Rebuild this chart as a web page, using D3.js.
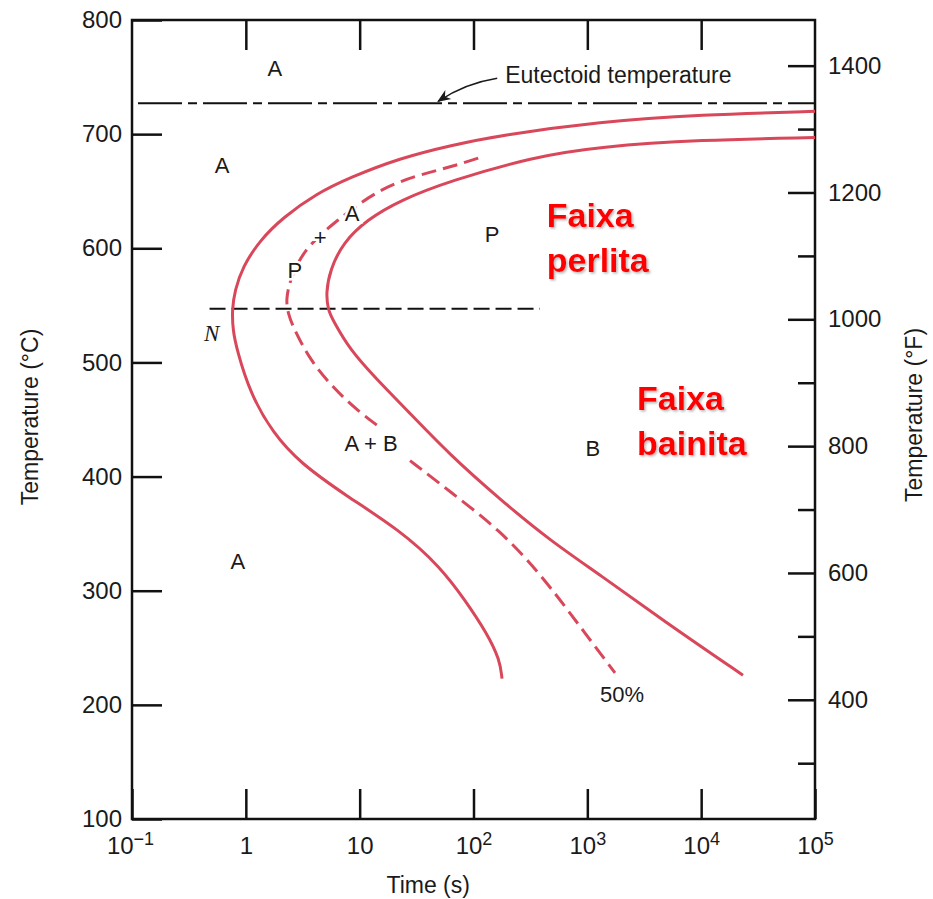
<!DOCTYPE html>
<html>
<head>
<meta charset="utf-8">
<script src="https://cdn.jsdelivr.net/npm/d3@7"></script>
<style>
  body { margin: 0; background: #fff; }
  svg text { font-family: "Liberation Sans", Arial, sans-serif; fill: #1a1a1a; }
</style>
</head>
<body>
<svg id="chart" width="933" height="899"></svg>
<script>
// isothermal transformation diagram, eutectoid steel
const timeTicks = [0.1, 1, 10, 100, 1000, 10000, 100000];
const timeTickLabels = [["10", "\u22121"], ["1", ""], ["10", ""], ["10", "2"], ["10", "3"], ["10", "4"], ["10", "5"]];
const celsiusTicks = [800, 700, 600, 500, 400, 300, 200, 100];
const fahrenheitMajor = [1400, 1200, 1000, 800, 600, 400];
const fahrenheitMinor = [1300, 1100, 900, 700, 500, 300];

// [time (s), temperature (C)]
const startCurve = [
    [100000, 720], [9800, 717], [1290, 711], [171, 699], [62, 690], [22.6, 679],
    [8.2, 662], [4.2, 648], [2.12, 627], [1.33, 607], [0.94, 584], [0.80, 563],
    [0.756, 546], [0.77, 528], [0.835, 511], [1.09, 473], [1.73, 438], [2.99, 412],
    [7.4, 384], [22.6, 353], [51, 321], [84, 292], [131, 263], [171, 239], [178, 223]
];
const halfCurveUpper = [
    [110, 679], [62, 671], [32, 664], [14.2, 651], [5.83, 622], [3.18, 598],
    [2.44, 572], [2.25, 555], [2.35, 543], [2.6, 531], [3.66, 502], [5.83, 478],
    [9.5, 458], [15.1, 443]
];
const halfCurveLower = [
    [27.7, 414], [62, 387], [171, 353], [384, 315], [748, 277], [1056, 257], [1750, 228]
];
const finishCurve = [
    [100000, 697], [9770, 695], [1290, 689], [333, 680], [62, 659], [22.6, 642],
    [11.6, 625], [7.14, 605], [5.49, 581], [5.06, 561], [5.27, 546], [5.83, 537],
    [8.22, 511], [14.2, 485], [26.1, 458], [62, 419], [171, 380], [470, 344],
    [1290, 314], [4620, 274], [23300, 226]
];

const eutectoidTemp = 727;
const noseLine = { from: 0.48, to: 384, temp: 547 };

const regionLabels = [
    [1.8, 758, "A"], [0.62, 673, "A"], [2.7, 581, "P"], [4.5, 610, "+"],
    [8.6, 631, "A"], [146, 612, "P"], [0.85, 326, "A"], [12.6, 429, "A + B"],
    [1120, 425, "B"], [2020, 209, "50%"]
];

const WIDTH = 933, HEIGHT = 899;
const margin = { top: 20, right: 118, bottom: 80, left: 132 };
const RED = "#d9475a";

const svg = d3.select("#chart");

const x = d3.scaleLog().domain([0.1, 100000]).range([margin.left, WIDTH - margin.right]);
const y = d3.scaleLinear().domain([100, 800]).range([HEIGHT - margin.bottom, margin.top]);
const yF = d3.scaleLinear().domain([100 * 9 / 5 + 32, 800 * 9 / 5 + 32]).range(y.range());

const defs = svg.append("defs");
defs.append("marker")
    .attr("id", "arrow")
    .attr("viewBox", "0 0 10 10")
    .attr("refX", 9).attr("refY", 5)
    .attr("markerWidth", 9).attr("markerHeight", 9)
    .attr("orient", "auto")
    .append("path")
    .attr("d", "M0,1 L10,5 L0,9 L3,5 Z")
    .attr("fill", "#1a1a1a");
const shadow = defs.append("filter").attr("id", "shadow");
shadow.append("feDropShadow")
    .attr("dx", 1.5).attr("dy", 1.5).attr("stdDeviation", 1)
    .attr("flood-color", "#777").attr("flood-opacity", 0.55);

// axes
function styleAxis(g) {
    g.select(".domain").remove();
    g.selectAll(".tick line").attr("stroke", "#111").attr("stroke-width", 2.5);
    g.selectAll(".tick text").style("font-size", "24px");
}

svg.append("g")
    .attr("transform", `translate(${margin.left},0)`)
    .call(d3.axisLeft(y).tickValues(celsiusTicks).tickSize(-30).tickPadding(10).tickFormat(d3.format("d")))
    .call(styleAxis);

svg.append("g")
    .attr("transform", `translate(0,${margin.top})`)
    .call(d3.axisTop(x).tickValues(timeTicks.slice(1, -1)).tickSize(-30).tickFormat(""))
    .call(styleAxis);

const bottomAxis = svg.append("g")
    .attr("transform", `translate(0,${HEIGHT - margin.bottom})`)
    .call(d3.axisBottom(x).tickValues(timeTicks).tickSize(-30).tickPadding(18).tickFormat(""))
    .call(styleAxis);
bottomAxis.selectAll(".tick text").each(function(d, i) {
    let t = d3.select(this);
    t.append("tspan").text(timeTickLabels[i][0]);
    if (timeTickLabels[i][1]) {
        t.append("tspan").attr("dy", "-0.5em").style("font-size", "18px").text(timeTickLabels[i][1]);
    }
});
bottomAxis.selectAll(".tick").filter((d, i) => i == 0).select("text").attr("dx", "-2");

svg.append("g")
    .attr("transform", `translate(${WIDTH - margin.right},0)`)
    .call(d3.axisRight(yF).tickValues(fahrenheitMajor).tickSize(-27).tickPadding(13).tickFormat(d3.format("d")))
    .call(styleAxis);
svg.append("g")
    .attr("transform", `translate(${WIDTH - margin.right},0)`)
    .call(d3.axisRight(yF).tickValues(fahrenheitMinor).tickSize(-17).tickFormat(""))
    .call(styleAxis);

svg.append("rect")
    .attr("x", margin.left).attr("y", margin.top)
    .attr("width", WIDTH - margin.left - margin.right)
    .attr("height", HEIGHT - margin.top - margin.bottom)
    .attr("fill", "none").attr("stroke", "#111").attr("stroke-width", 2.5);

// axis titles
svg.append("text")
    .attr("transform", `translate(38,417) rotate(-90)`)
    .attr("text-anchor", "middle")
    .style("font-size", "23px")
    .text("Temperature (\u00B0C)");
svg.append("text")
    .attr("transform", `translate(922,415) rotate(-90)`)
    .attr("text-anchor", "middle")
    .style("font-size", "23px")
    .text("Temperature (\u00B0F)");
svg.append("text")
    .attr("x", x(40)).attr("y", 893)
    .attr("text-anchor", "middle")
    .style("font-size", "23px")
    .text("Time (s)");

// reference lines
svg.append("line")
    .attr("x1", margin.left + 6).attr("x2", WIDTH - margin.right)
    .attr("y1", y(eutectoidTemp)).attr("y2", y(eutectoidTemp))
    .attr("stroke", "#111").attr("stroke-width", 2)
    .attr("stroke-dasharray", "44,6,9,6");
svg.append("line")
    .attr("x1", x(noseLine.from)).attr("x2", x(noseLine.to))
    .attr("y1", y(noseLine.temp)).attr("y2", y(noseLine.temp))
    .attr("stroke", "#111").attr("stroke-width", 2)
    .attr("stroke-dasharray", "16,6");

// curves
const line = d3.line()
    .x(d => x(d[0]))
    .y(d => y(d[1]))
    .curve(d3.curveBasis);

svg.append("path").attr("d", line(startCurve))
    .attr("fill", "none").attr("stroke", RED).attr("stroke-width", 3);
svg.append("path").attr("d", line(finishCurve))
    .attr("fill", "none").attr("stroke", RED).attr("stroke-width", 3);
for (let part of [halfCurveUpper, halfCurveLower]) {
    svg.append("path").attr("d", line(part))
        .attr("fill", "none").attr("stroke", RED).attr("stroke-width", 3)
        .attr("stroke-dasharray", "15,7");
}

// eutectoid annotation
const ax = x(48), ay = y(eutectoidTemp);
svg.append("path")
    .attr("d", `M${ax + 60},${ay - 25} Q${ax + 28},${ay - 20} ${ax + 1},${ay - 2}`)
    .attr("fill", "none").attr("stroke", "#1a1a1a").attr("stroke-width", 1.5)
    .attr("marker-end", "url(#arrow)");
svg.append("text")
    .attr("x", ax + 68).attr("y", ay - 20)
    .style("font-size", "23px")
    .text("Eutectoid temperature");

svg.append("text")
    .attr("x", x(0.5)).attr("y", y(526))
    .attr("text-anchor", "middle").attr("dy", "0.35em")
    .style("font-family", "'Liberation Serif', 'Times New Roman', serif")
    .style("font-style", "italic")
    .style("font-size", "23px")
    .text("N");

svg.selectAll(".region")
    .data(regionLabels)
    .enter()
    .append("text")
    .attr("class", "region")
    .attr("x", d => x(d[0])).attr("y", d => y(d[1]))
    .attr("dy", "0.35em")
    .attr("text-anchor", "middle")
    .attr("stroke", "#fff").attr("stroke-width", 5)
    .attr("paint-order", "stroke")
    .style("font-size", "22px")
    .text(d => d[2]);

// highlighted ranges
function rangeLabel(t, temp, lines) {
    let txt = svg.append("text")
        .attr("x", x(t)).attr("y", y(temp))
        .attr("filter", "url(#shadow)")
        .style("font-size", "34px")
        .style("font-weight", "bold")
        .style("fill", "#ff0000");
    lines.forEach((s, i) => {
        txt.append("tspan").attr("x", x(t)).attr("dy", i == 0 ? 0 : 45).text(s);
    });
}
rangeLabel(440, 619, ["Faixa", "perlita"]);
rangeLabel(2735, 458, ["Faixa", "bainita"]);
</script>
</body>
</html>
